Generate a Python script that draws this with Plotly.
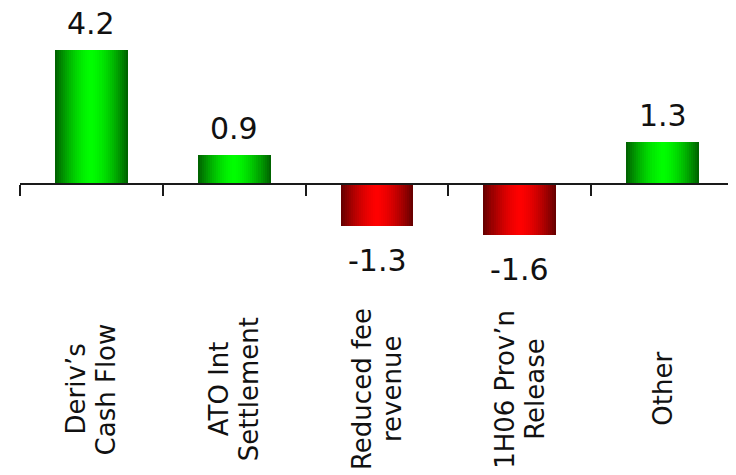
import plotly.graph_objects as go

categories = ["Deriv’s<br>Cash Flow", "ATO Int<br>Settlement", "Reduced fee<br>revenue",
              "1H06 Prov’n<br>Release", "Other"]
values = [4.2, 0.9, -1.3, -1.6, 1.3]
value_labels = ["4.2", "0.9", "-1.3", "-1.6", "1.3"]

POS_CENTER = (0, 255, 0)
POS_EDGE = (0, 100, 0)
NEG_CENTER = (255, 0, 0)
NEG_EDGE = (105, 0, 0)

BAR_WIDTH = 0.51
N_LAYERS = 18
FONT = "DejaVu Sans"

x_idx = list(range(len(categories)))


def mix(c1, c2, t):
    return "rgb({},{},{})".format(*[round(a + (b - a) * t) for a, b in zip(c1, c2)])


fig = go.Figure()
for k in range(N_LAYERS):
    frac = 1 - k / N_LAYERS          # 1 at outer layer, ->0 at centre
    t = frac ** 1.6
    colors = [mix(POS_CENTER, POS_EDGE, t) if v >= 0 else mix(NEG_CENTER, NEG_EDGE, t)
              for v in values]
    fig.add_trace(go.Bar(
        x=x_idx, y=values, width=BAR_WIDTH * frac,
        marker=dict(color=colors, line=dict(width=0)),
        hoverinfo="skip", showlegend=False,
    ))

annotations = []
for i, (v, lab) in enumerate(zip(values, value_labels)):
    annotations.append(dict(
        x=i, y=v, xref="x", yref="y", text=lab, showarrow=False,
        font=dict(family=FONT, size=30, color="#111111"),
        xanchor="center",
        yanchor="bottom" if v >= 0 else "top",
        yshift=7 if v >= 0 else -15,
    ))

LINE_STEP = 30
for i, cat in enumerate(categories):
    lines = cat.split("<br>")
    n = len(lines)
    for j, line in enumerate(lines):
        annotations.append(dict(
            x=i, y=-0.307, xref="x", yref="paper", text=line, showarrow=False,
            textangle=-90, font=dict(family=FONT, size=26, color="#111111"),
            xanchor="center", yanchor="middle",
            xshift=(j - (n - 1) / 2) * LINE_STEP,
        ))

ymax = 5.4375
ymin = -3.625

# the page body has an 8px margin, so the figure is made 8px smaller and shifted
fig.update_layout(
    width=728, height=467,
    margin=dict(l=12, r=2, t=2, b=175),
    paper_bgcolor="white", plot_bgcolor="white",
    barmode="overlay",
    bargap=0,
    xaxis=dict(
        type="linear", range=[-0.5, len(categories) - 0.5],
        tickmode="array", tickvals=[i - 0.5 for i in range(len(categories) + 1)],
        showticklabels=False, showgrid=False, zeroline=False,
        showline=True, linecolor="#1a1a1a", linewidth=2,
        ticks="outside", ticklen=11, tickwidth=2, tickcolor="#1a1a1a",
        anchor="free", position=(0 - ymin) / (ymax - ymin),
        fixedrange=True,
    ),
    yaxis=dict(range=[ymin, ymax], visible=False, showgrid=False, zeroline=False,
               fixedrange=True),
    annotations=annotations,
)

fig.write_html("out.html")
